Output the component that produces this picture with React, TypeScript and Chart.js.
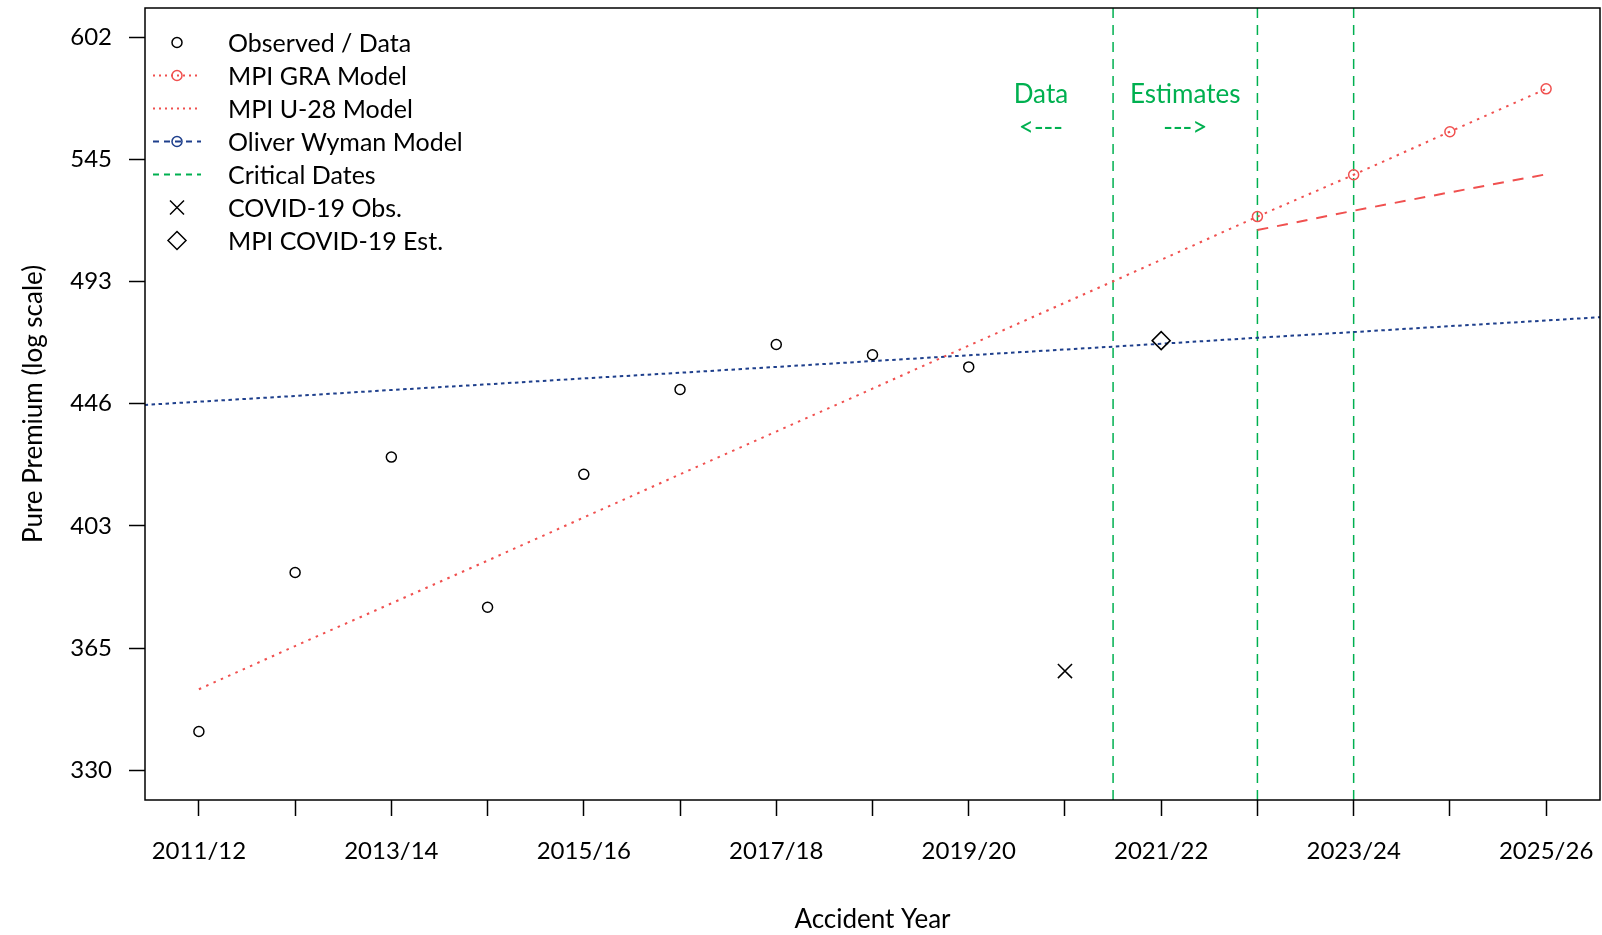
import React, { useEffect, useRef } from 'react';
import { Chart, registerables } from 'chart.js';

Chart.register(...registerables);

// ---------- data ----------
const categories = [
  '2011/12', '2012/13', '2013/14', '2014/15', '2015/16', '2016/17', '2017/18', '2018/19',
  '2019/20', '2020/21', '2021/22', '2022/23', '2023/24', '2024/25', '2025/26',
];
// Observed pure premium, 2011/12 .. 2019/20
const observed = [340.9, 388.3, 426.8, 377.4, 420.8, 451.1, 468.0, 464.1, 459.5];
// COVID-19 observation (2020/21) and MPI COVID-19 estimate (2021/22)
const covidObsYear = '2020/21';
const covidObsValue = 358.2;
const mpiCovidYear = '2021/22';
const mpiCovidValue = 469.5;
// MPI U-28 model, 2011/12 .. 2022/23
const u28Model = [352.9, 365.6, 378.6, 392.1, 406.2, 420.8, 435.8, 451.4, 467.6, 484.3, 501.6, 519.7];
// MPI GRA model, 2022/23 .. 2025/26
const graYears = ['2022/23', '2023/24', '2024/25', '2025/26'];
const graModel = [519.7, 537.8, 557.1, 577.0];
// second (dashed) MPI projection, 2022/23 .. 2025/26
const graAltModel = [514.0, 522.2, 530.1, 538.0];
// Oliver Wyman model, 2010/11 .. 2026/27 (extends across the whole frame)
const owModel = [444.5, 446.6, 448.7, 450.9, 453.0, 455.2, 457.3, 459.5, 461.7, 463.9, 466.1, 468.3, 470.6, 472.8, 475.1, 477.3, 479.6];
// Critical dates (positions on the year axis, 1 = 2011/12)
const criticalDates = [10.5, 12, 13];
// y-axis ticks
const yTickValues = [330.3, 365.0, 403.4, 445.9, 492.7, 544.6, 601.8];
const yTickLabels = ['330', '365', '403', '446', '493', '545', '602'];
const yMin = 322.3;
const yMax = 616.5;
const xMin = 0.44;
const xMax = 15.56;
// green annotations
const annotationTexts = ['Data', '<---', 'Estimates', '--->'];
const annotationX = [9.75, 9.75, 11.25, 11.25];
const annotationY = [574.2, 558.8, 574.2, 558.8];
// legend labels
const legendLabels = [
  'Observed / Data', 'MPI GRA Model', 'MPI U-28 Model', 'Oliver Wyman Model',
  'Critical Dates', 'COVID-19 Obs.', 'MPI COVID-19 Est.',
];

// ---------- styles ----------
const FONT = 'Lato, "DejaVu Sans", sans-serif';
const RED = '#F0504F';
const NAVY = '#1E3F8C';
const GREEN = '#00B050';
const BLACK = '#000000';

const pos = (label: string) => categories.indexOf(label) + 1;

function drawMarker(ctx: CanvasRenderingContext2D, kind: string, x: number, y: number, color: string) {
  ctx.save();
  ctx.setLineDash([]);
  ctx.strokeStyle = color;
  ctx.lineWidth = 1.5;
  ctx.beginPath();
  if (kind === 'circle') {
    ctx.arc(x, y, 5, 0, Math.PI * 2);
  } else if (kind === 'cross') {
    const h = 7;
    ctx.moveTo(x - h, y - h); ctx.lineTo(x + h, y + h);
    ctx.moveTo(x - h, y + h); ctx.lineTo(x + h, y - h);
  } else if (kind === 'diamond') {
    const r = 9;
    ctx.moveTo(x, y - r); ctx.lineTo(x + r, y); ctx.lineTo(x, y + r); ctx.lineTo(x - r, y); ctx.closePath();
  }
  ctx.stroke();
  ctx.restore();
}

const legendStyles = [
  { line: null, dash: [], color: BLACK, marker: 'circle' },
  { line: RED, dash: [2, 4], color: RED, marker: 'circle' },
  { line: RED, dash: [2, 4], color: RED, marker: null },
  { line: NAVY, dash: [6, 5], color: NAVY, marker: 'circle' },
  { line: GREEN, dash: [6, 5], color: GREEN, marker: null },
  { line: null, dash: [], color: BLACK, marker: 'cross' },
  { line: null, dash: [], color: BLACK, marker: 'diamond' },
];

const decorPlugin = {
  id: 'rDecor',
  afterDraw(chart: any) {
    const { ctx, chartArea: a, scales } = chart;
    ctx.save();
    // green annotations
    ctx.fillStyle = GREEN;
    ctx.font = `26px ${FONT}`;
    ctx.textAlign = 'center';
    ctx.textBaseline = 'middle';
    annotationTexts.forEach((t, i) => {
      ctx.fillText(t, scales.x.getPixelForValue(annotationX[i]), scales.y.getPixelForValue(annotationY[i]));
    });
    // legend
    legendLabels.forEach((label, i) => {
      const st = legendStyles[i];
      const y = a.top + 34.5 + 33 * i;
      const cx = a.left + 32;
      if (st.line) {
        ctx.save();
        ctx.strokeStyle = st.line;
        ctx.lineWidth = 1.8;
        ctx.setLineDash(st.dash);
        ctx.beginPath();
        ctx.moveTo(a.left + 8, y);
        ctx.lineTo(a.left + 56, y);
        ctx.stroke();
        ctx.restore();
      }
      if (st.marker) drawMarker(ctx, st.marker, cx, y, st.color);
      ctx.fillStyle = BLACK;
      ctx.font = `25px ${FONT}`;
      ctx.textAlign = 'left';
      ctx.textBaseline = 'middle';
      ctx.fillText(label, a.left + 83, y + 1);
    });
    // frame
    ctx.setLineDash([]);
    ctx.strokeStyle = BLACK;
    ctx.lineWidth = 1.5;
    ctx.strokeRect(a.left, a.top, a.right - a.left, a.bottom - a.top);
    ctx.restore();
  },
};

export default function App() {
  const ref = useRef<HTMLCanvasElement>(null);

  useEffect(() => {
    const canvas = ref.current;
    if (!canvas) return;
    Chart.defaults.font.family = FONT;

    const criticalSets = criticalDates.map((d) => ({
      label: 'Critical Dates',
      data: [{ x: d, y: yMin }, { x: d, y: yMax }],
      showLine: true,
      borderColor: GREEN,
      borderWidth: 1.5,
      borderDash: [10, 7],
      pointRadius: 0,
      clip: 0,
    }));

    const chart = new Chart(canvas, {
      type: 'scatter',
      data: {
        datasets: [
          {
            label: 'MPI COVID-19 Est.',
            data: [{ x: pos(mpiCovidYear), y: mpiCovidValue }],
            pointStyle: 'rectRot',
            pointRadius: 9,
            borderColor: BLACK,
            backgroundColor: 'rgba(0,0,0,0)',
            borderWidth: 1.5,
          },
          {
            label: 'COVID-19 Obs.',
            data: [{ x: pos(covidObsYear), y: covidObsValue }],
            pointStyle: 'crossRot',
            pointRadius: 10,
            borderColor: BLACK,
            borderWidth: 1.5,
          },
          {
            label: 'Observed / Data',
            data: observed.map((v, i) => ({ x: i + 1, y: v })),
            pointStyle: 'circle',
            pointRadius: 5,
            borderColor: BLACK,
            backgroundColor: 'rgba(0,0,0,0)',
            borderWidth: 1.5,
          },
          {
            label: 'MPI GRA Model',
            data: graModel.map((v, i) => ({ x: pos(graYears[i]), y: v })),
            showLine: true,
            borderColor: RED,
            borderWidth: 2,
            borderDash: [2.5, 5.5],
            pointStyle: 'circle',
            pointRadius: 5,
            pointBorderColor: RED,
            pointBackgroundColor: 'rgba(0,0,0,0)',
            pointBorderWidth: 1.5,
          },
          {
            label: 'MPI U-28 Model',
            data: u28Model.map((v, i) => ({ x: i + 1, y: v })),
            showLine: true,
            borderColor: RED,
            borderWidth: 2,
            borderDash: [2.5, 5.5],
            pointRadius: 0,
          },
          {
            label: 'MPI projection',
            data: graAltModel.map((v, i) => ({ x: pos(graYears[i]), y: v })),
            showLine: true,
            borderColor: RED,
            borderWidth: 2,
            borderDash: [11, 9],
            pointRadius: 0,
          },
          {
            label: 'Oliver Wyman Model',
            data: owModel.map((v, i) => ({ x: i, y: v })),
            showLine: true,
            borderColor: NAVY,
            borderWidth: 2,
            borderDash: [3.5, 3.5],
            pointRadius: 0,
            clip: 0,
          },
          ...criticalSets,
        ],
      },
      options: {
        responsive: false,
        animation: false,
        devicePixelRatio: 1,
        events: [],
        layout: { autoPadding: false, padding: { left: 0, right: 2, top: 8, bottom: 0 } },
        plugins: { legend: { display: false }, tooltip: { enabled: false } },
        scales: {
          x: {
            type: 'linear',
            min: xMin,
            max: xMax,
            bounds: 'data',
            afterBuildTicks: (s: any) => {
              s.ticks = categories.map((_, i) => ({ value: i + 1 }));
            },
            afterFit: (s: any) => {
              s.height = 135;
              s.paddingLeft = 0;
              s.paddingRight = 0;
            },
            ticks: {
              autoSkip: false,
              maxRotation: 0,
              minRotation: 0,
              padding: 21,
              color: BLACK,
              font: { size: 24, family: FONT },
              callback: (_v: any, i: number) => (i % 2 === 0 ? categories[i] : ''),
            },
            grid: {
              drawOnChartArea: false,
              drawTicks: true,
              tickLength: 16,
              tickColor: BLACK,
              tickWidth: 1.5,
            },
            border: { display: false },
            title: {
              display: true,
              text: 'Accident Year',
              color: BLACK,
              font: { size: 26, family: FONT },
              padding: { top: 0, bottom: 0 },
            },
          },
          y: {
            type: 'logarithmic',
            min: yMin,
            max: yMax,
            bounds: 'data',
            afterBuildTicks: (s: any) => {
              s.ticks = yTickValues.map((v) => ({ value: v }));
            },
            afterFit: (s: any) => {
              s.width = 145;
              s.paddingTop = 0;
              s.paddingBottom = 0;
            },
            ticks: {
              padding: 17,
              color: BLACK,
              font: { size: 24, family: FONT },
              callback: (_v: any, i: number) => yTickLabels[i],
            },
            grid: {
              drawOnChartArea: false,
              drawTicks: true,
              tickLength: 16,
              tickColor: BLACK,
              tickWidth: 1.5,
            },
            border: { display: false },
            title: {
              display: true,
              text: 'Pure Premium (log scale)',
              color: BLACK,
              font: { size: 26, family: FONT },
              padding: { top: 18, bottom: 0 },
            },
          },
        },
      } as any,
      plugins: [decorPlugin],
    });

    return () => chart.destroy();
  }, []);

  return (
    <div style={{ position: 'fixed', left: 0, top: 0, width: 1602, height: 935, background: '#ffffff' }}>
      <canvas ref={ref} width={1602} height={935} style={{ width: 1602, height: 935, display: 'block' }} />
    </div>
  );
}
